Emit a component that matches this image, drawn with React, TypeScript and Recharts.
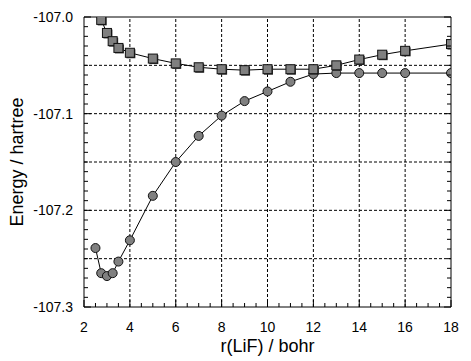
import React from "react";
import {
  LineChart,
  Line,
  XAxis,
  YAxis,
  ReferenceLine,
} from "recharts";

// bond length r(LiF) in bohr
const squareR = [2.75, 3, 3.25, 3.5, 4, 5, 6, 7, 8, 9, 10, 11, 12, 13, 14, 15, 16, 18];
const squareE = [
  -107.003, -107.0165, -107.025, -107.032, -107.037, -107.043, -107.048, -107.052,
  -107.054, -107.055, -107.054, -107.054, -107.054, -107.05, -107.044, -107.039,
  -107.035, -107.028,
];

const circleR = [2.5, 2.75, 3, 3.25, 3.5, 4, 5, 6, 7, 8, 9, 10, 11, 12, 13, 14, 15, 16, 18];
const circleE = [
  -107.239, -107.265, -107.268, -107.265, -107.253, -107.231, -107.185, -107.15,
  -107.123, -107.102, -107.087, -107.077, -107.067, -107.059, -107.058, -107.058,
  -107.058, -107.058, -107.058,
];

const xLabels = [2, 4, 6, 8, 10, 12, 14, 16, 18];
const yLabels = [-107.3, -107.2, -107.1, -107.0];
const xGrid = [4, 6, 8, 10, 12, 14, 16];
const yGrid = [-107.25, -107.2, -107.15, -107.1, -107.05];

// minor ticks: every 0.5 bohr, every 0.01 hartree
const xTicks = Array.from({ length: 33 }, (_, i) => 2 + i * 0.5);
const yTicks = Array.from({ length: 31 }, (_, i) => +(-107.3 + i * 0.01).toFixed(2));

const squareData = squareR.map((r, i) => ({ r, e: squareE[i] }));
const circleData = circleR.map((r, i) => ({ r, e: circleE[i] }));

const FONT = "'Liberation Sans', Arial, sans-serif";
const MINOR = 4;
const MAJOR = 7;

const isMajorX = (v: number) => xLabels.includes(v);
const isMajorY = (v: number) => yLabels.some((l) => Math.abs(l - v) < 1e-6);

const BottomTick = (props: any) => {
  const { x, y, payload } = props;
  const v = payload.value;
  const major = isMajorX(v);
  return (
    <g>
      <line x1={x} y1={y} x2={x} y2={y - (major ? MAJOR : MINOR)} stroke="#000" />
      {major && (
        <text x={x} y={y + 20} dy="0.35em" textAnchor="middle" fontSize={14} fill="#000" fontFamily={FONT}>
          {v}
        </text>
      )}
    </g>
  );
};

const TopTick = (props: any) => {
  const { x, y, payload } = props;
  const major = isMajorX(payload.value);
  return <line x1={x} y1={y} x2={x} y2={y + (major ? MAJOR : MINOR)} stroke="#000" />;
};

const LeftTick = (props: any) => {
  const { x, y, payload } = props;
  const v = payload.value;
  const major = isMajorY(v);
  return (
    <g>
      <line x1={x} y1={y} x2={x + (major ? MAJOR : MINOR)} y2={y} stroke="#000" />
      {major && (
        <text x={x - 11} y={y} dy="0.35em" textAnchor="end" fontSize={14} fill="#000" fontFamily={FONT}>
          {v.toFixed(1)}
        </text>
      )}
    </g>
  );
};

const RightTick = (props: any) => {
  const { x, y, payload } = props;
  const major = isMajorY(payload.value);
  return <line x1={x} y1={y} x2={x - (major ? MAJOR : MINOR)} y2={y} stroke="#000" />;
};

const SquareDot = (props: any) => {
  const { cx, cy, index } = props;
  if (cx == null || cy == null) return <g key={index} />;
  return (
    <g key={index}>
      <rect x={cx - 3.5} y={cy - 3.5} width={9} height={9} fill="#333" />
      <rect x={cx - 4.5} y={cy - 4.5} width={9} height={9} fill="#808080" stroke="#111" strokeWidth={1} />
    </g>
  );
};

const CircleDot = (props: any) => {
  const { cx, cy, index } = props;
  if (cx == null || cy == null) return <g key={index} />;
  return <circle key={index} cx={cx} cy={cy} r={4.5} fill="#808080" stroke="#111" strokeWidth={1} />;
};

const App: React.FC = () => {
  return (
    <div style={{ position: "absolute", left: 0, top: 0, background: "#fff" }}>
      <LineChart
        width={471}
        height={361}
        margin={{ top: 0, right: 0, bottom: 0, left: 0 }}
        style={{ fontFamily: FONT }}
      >
        <XAxis
          xAxisId={0}
          dataKey="r"
          type="number"
          domain={[2, 18]}
          ticks={xTicks}
          interval={0}
          allowDataOverflow
          height={54}
          tickSize={0}
          tickMargin={0}
          tickLine={false}
          tick={BottomTick}
          axisLine={{ stroke: "#000" }}
          label={{
            value: "r(LiF) / bohr",
            position: "insideTop",
            offset: 32,
            fill: "#000",
            style: { fontSize: 18, fill: "#000", fontFamily: FONT },
          }}
        />
        <XAxis
          xAxisId="top"
          orientation="top"
          type="number"
          domain={[2, 18]}
          ticks={xTicks}
          interval={0}
          allowDataOverflow
          height={17}
          tickSize={0}
          tickMargin={0}
          tickLine={false}
          tick={TopTick}
          axisLine={{ stroke: "#000" }}
        />
        <YAxis
          yAxisId={0}
          type="number"
          domain={[-107.3, -107.0]}
          ticks={yTicks}
          interval={0}
          allowDataOverflow
          width={84}
          tickSize={0}
          tickMargin={0}
          tickLine={false}
          tick={LeftTick}
          axisLine={{ stroke: "#000" }}
          label={{
            value: "Energy / hartree",
            angle: -90,
            position: "insideLeft",
            offset: 17,
            fill: "#000",
            style: { fontSize: 18, fill: "#000", textAnchor: "middle", fontFamily: FONT },
          }}
        />
        <YAxis
          yAxisId="right"
          orientation="right"
          type="number"
          domain={[-107.3, -107.0]}
          ticks={yTicks}
          interval={0}
          allowDataOverflow
          width={20}
          tickSize={0}
          tickMargin={0}
          tickLine={false}
          tick={RightTick}
          axisLine={{ stroke: "#000" }}
        />

        {xGrid.map((v) => (
          <ReferenceLine key={`gx${v}`} x={v} stroke="#000" strokeDasharray="3 2" />
        ))}
        {yGrid.map((v) => (
          <ReferenceLine key={`gy${v}`} y={v} stroke="#000" strokeDasharray="3 2" />
        ))}

        <Line
          data={circleData}
          dataKey="e"
          type="linear"
          stroke="#000"
          strokeWidth={1}
          dot={CircleDot}
          activeDot={false}
          isAnimationActive={false}
        />
        <Line
          data={squareData}
          dataKey="e"
          type="linear"
          stroke="#000"
          strokeWidth={1}
          dot={SquareDot}
          activeDot={false}
          isAnimationActive={false}
        />
      </LineChart>
    </div>
  );
};

export default App;
